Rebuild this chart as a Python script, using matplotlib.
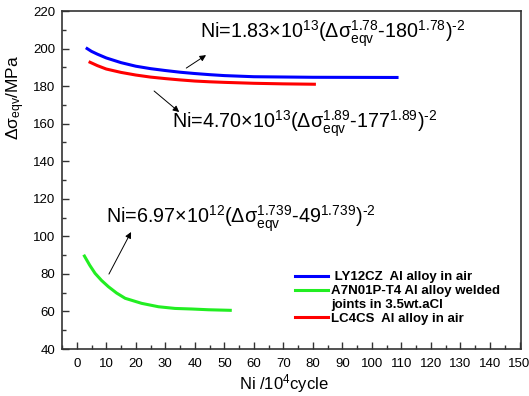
import matplotlib
matplotlib.use("Agg")
import matplotlib.pyplot as plt
from matplotlib.lines import Line2D
from matplotlib.ticker import MultipleLocator

plt.rcParams["font.family"] = ["Liberation Sans", "DejaVu Sans"]
plt.rcParams["mathtext.fontset"] = "custom"
plt.rcParams["mathtext.rm"] = "Liberation Sans"
plt.rcParams["mathtext.it"] = "Liberation Sans:italic"
plt.rcParams["mathtext.bf"] = "Liberation Sans:bold"
plt.rcParams["mathtext.default"] = "regular"

# values
x_ly12 = [3.5, 5, 7, 10, 15, 20, 25, 30, 35, 40, 45, 50, 60, 80, 108.5]
y_ly12 = [200.0, 198.5, 197.0, 195.0, 192.5, 190.6, 189.3, 188.3, 187.4, 186.7, 186.1, 185.6, 185.0, 184.7, 184.6]

x_lc4 = [4.5, 7, 10, 15, 20, 25, 30, 35, 40, 45, 50, 60, 70, 80.5]
y_lc4 = [192.7, 190.9, 189.1, 187.3, 185.9, 184.8, 184.0, 183.3, 182.7, 182.3, 182.0, 181.5, 181.2, 181.0]

x_a7n = [2.6, 4.4, 6.2, 8.4, 10.7, 13.5, 16.4, 22.0, 27.7, 33.3, 39.0, 44.6, 52.0]
y_a7n = [89.5, 84.6, 80.3, 76.5, 73.2, 69.8, 67.0, 64.3, 62.5, 61.6, 61.3, 60.9, 60.6]

labels = [" LY12CZ  Al alloy in air",
          "A7N01P-T4 Al alloy welded\njoints in 3.5wt.aCl",
          "LC4CS  Al alloy in air"]

eq_ly12 = r"Ni=1.83×10$^{13}$(Δσ$_{eqv}^{1.78}$-180$^{1.78}$)$^{\text{-}2}$"
eq_lc4 = r"Ni=4.70×10$^{13}$(Δσ$_{eqv}^{1.89}$-177$^{1.89}$)$^{\text{-}2}$"
eq_a7n = r"Ni=6.97×10$^{12}$(Δσ$_{eqv}^{1.739}$-49$^{1.739}$)$^{\text{-}2}$"

fig = plt.figure(figsize=(5.29, 3.96), dpi=100)
ax = fig.add_axes([62 / 529, 1 - 349 / 396, 459 / 529, 338 / 396])

l1, = ax.plot(x_ly12, y_ly12, color="#0000ff", lw=2.2)
l2, = ax.plot(x_a7n, y_a7n, color="#22ee22", lw=2.2)
l3, = ax.plot(x_lc4, y_lc4, color="#ff0000", lw=2.2)

arrow = dict(arrowstyle="-|>", color="black", lw=0.7, mutation_scale=9, shrinkA=0, shrinkB=0)
ax.annotate("", xy=(43.8, 196.5), xytext=(37.1, 189.6), arrowprops=arrow)
ax.annotate("", xy=(34.7, 166.2), xytext=(26.2, 177.4), arrowprops=arrow)
ax.annotate("", xy=(18.4, 102.3), xytext=(10.9, 79.9), arrowprops=arrow)

ax.text(41.8, 205.6, eq_ly12, fontsize=14.2, va="baseline")
ax.text(32.3, 157.7, eq_lc4, fontsize=14.2, va="baseline")
ax.text(9.9, 107.1, eq_a7n, fontsize=14.2, va="baseline")

ax.set_xlim(-5, 150.5)
ax.set_ylim(40, 220)
ax.xaxis.set_major_locator(MultipleLocator(10))
ax.xaxis.set_minor_locator(MultipleLocator(5))
ax.yaxis.set_major_locator(MultipleLocator(20))
ax.yaxis.set_minor_locator(MultipleLocator(10))
ax.tick_params(which="both", direction="in", top=False, right=False, labelsize=9.5, colors="#333333", labelcolor="black")
ax.tick_params(which="major", length=5, width=1.0)
ax.tick_params(which="minor", length=3, width=1.0)
ax.tick_params(axis="x", pad=6.5)
ax.tick_params(axis="y", pad=5.0)
for s in ax.spines.values():
    s.set_color("#333333")
    s.set_linewidth(1.2)

ax.set_xlabel(r"Ni /10$^{4}$cycle", fontsize=12)
ax.set_ylabel(r"Δσ$_{eqv}$/MPa", fontsize=12.5)
ax.xaxis.set_label_coords(0.483, -0.068)
ax.yaxis.set_label_coords(-0.076, 0.743)

# second label wraps; its second line is a handle-less entry so the green line sits on the first line
first, second = labels[1].split("\n")
blank = Line2D([], [], color="none")
leg = ax.legend([l1, l2, blank, l3], [labels[0], first, second, labels[2]],
                loc="upper left", bbox_to_anchor=(295 / 529, 1 - 271 / 396), bbox_transform=fig.transFigure,
                frameon=False, prop={"weight": "bold", "size": 9.5}, handlelength=2.5, handletextpad=0.25,
                labelspacing=0.13, borderpad=0, borderaxespad=0)

fig.savefig("out.png", dpi=100)
